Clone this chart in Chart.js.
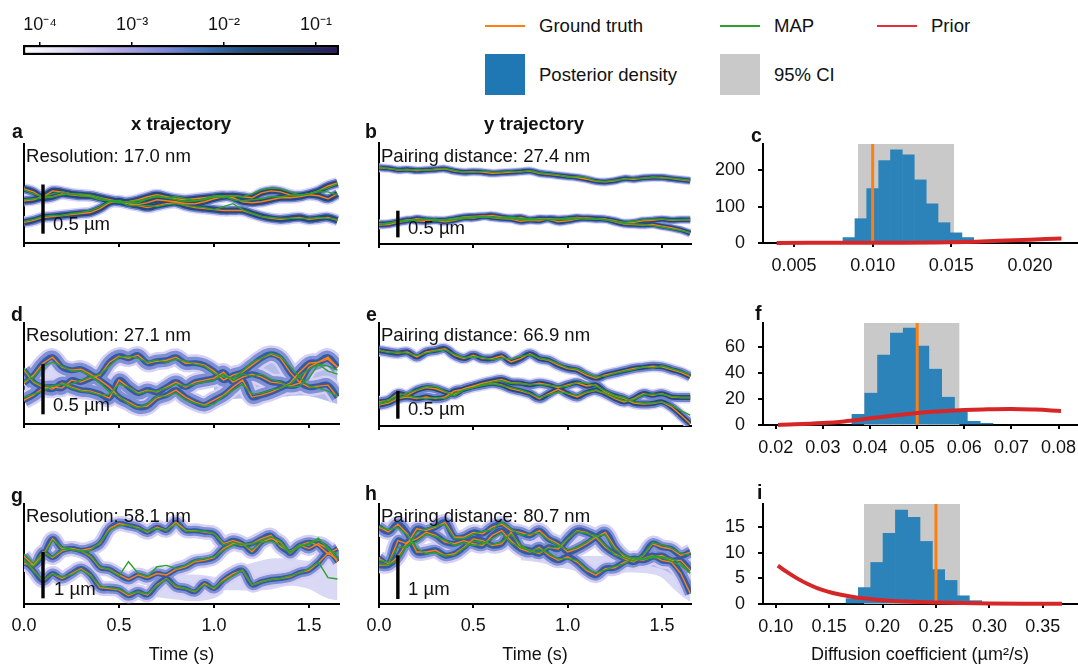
<!DOCTYPE html>
<html lang="en">
<head>
<meta charset="UTF-8">
<title>Trajectories and diffusion posterior</title>
<script src="https://cdn.jsdelivr.net/npm/chart.js"></script>
<style>
    html, body { margin: 0; padding: 0; background: #fff; }
    #fig { position: relative; width: 1078px; height: 666px; overflow: hidden; font-family: "Liberation Sans", Arial, sans-serif; color: #111; }
    #fig canvas { position: absolute; }
    .txt { position: absolute; font-size: 18.55px; line-height: 22px; white-space: nowrap; transform: translateY(-50%); }
    .bold { font-weight: bold; }
    .letter { font-size: 19.5px; }
    .swatch { position: absolute; }
</style>
</head>
<body>
<div id="fig"></div>
<script>
// time grid of all trajectories (s)
const times = [0,.05,.1,.15,.2,.25,.3,.35,.4,.45,.5,.55,.6,.65,.7,.75,.8,.85,.9,.95,1,1.05,1.1,1.15,1.2,1.25,1.3,1.35,1.4,1.45,1.5,1.55,1.6,1.65];

// panel a, x trajectory (um)
const aT1 = [.43,.44,.47,.53,.52,.50,.49,.48,.46,.44,.42,.40,.39,.41,.44,.43,.42,.40,.40,.42,.45,.47,.48,.47,.46,.51,.53,.52,.49,.48,.50,.53,.58,.61];
const aT2 = [.55,.52,.46,.47,.50,.49,.48,.48,.46,.43,.42,.42,.44,.47,.49,.47,.45,.44,.45,.46,.47,.48,.46,.42,.41,.42,.44,.46,.46,.47,.49,.48,.45,.50];
const aT3 = [.21,.23,.26,.27,.28,.29,.30,.31,.35,.41,.43,.40,.38,.36,.38,.40,.41,.38,.36,.35,.34,.33,.33,.33,.30,.27,.25,.24,.25,.26,.24,.25,.26,.23];
const aM1 = [.54,.50,.47,.50,.52,.50,.50,.49,.46,.43,.43,.41,.41,.45,.48,.46,.47,.45,.43,.44,.47,.46,.48,.47,.50,.54,.56,.55,.52,.49,.50,.53,.56,.60];
const aM2 = [.44,.45,.46,.47,.49,.50,.48,.47,.44,.43,.41,.42,.43,.45,.47,.46,.44,.42,.43,.45,.48,.48,.44,.43,.44,.45,.47,.47,.48,.48,.50,.52,.52,.49];
const aM3 = [.22,.24,.27,.28,.28,.30,.31,.33,.37,.42,.42,.38,.38,.38,.37,.39,.40,.38,.37,.36,.34,.37,.40,.34,.30,.27,.26,.25,.25,.25,.25,.26,.25,.24];

// panel b, y trajectory
const bT1 = [1.41,1.40,1.37,1.38,1.36,1.37,1.38,1.39,1.35,1.33,1.34,1.33,1.31,1.32,1.33,1.34,1.35,1.31,1.29,1.27,1.25,1.23,1.20,1.16,1.15,1.17,1.21,1.20,1.22,1.23,1.23,1.21,1.19,1.17];
const bT2 = [.35,.36,.40,.43,.47,.45,.44,.41,.44,.48,.48,.51,.53,.50,.48,.49,.45,.47,.46,.41,.43,.46,.48,.47,.46,.43,.39,.40,.43,.44,.46,.44,.45,.45];
const bT3 = [.37,.38,.41,.45,.43,.42,.44,.44,.47,.50,.51,.52,.49,.47,.46,.42,.44,.43,.47,.46,.47,.49,.47,.46,.46,.41,.37,.36,.35,.36,.33,.30,.26,.20];
const bM1 = [1.43,1.39,1.38,1.37,1.38,1.36,1.39,1.40,1.36,1.33,1.33,1.35,1.33,1.33,1.35,1.33,1.36,1.32,1.30,1.28,1.24,1.25,1.23,1.17,1.16,1.18,1.20,1.22,1.21,1.24,1.22,1.22,1.20,1.18];
const bM2 = [.36,.38,.42,.44,.45,.46,.46,.43,.45,.47,.49,.50,.50,.49,.50,.48,.47,.46,.45,.45,.45,.47,.47,.46,.45,.42,.40,.42,.45,.46,.46,.45,.45,.46];
const bM3 = [.36,.39,.42,.43,.44,.46,.43,.45,.48,.49,.50,.50,.49,.48,.47,.45,.45,.45,.46,.46,.48,.48,.46,.47,.45,.42,.38,.37,.36,.34,.31,.28,.25,.21];

// panel d
const dT1 = [.41,.49,.61,.67,.57,.54,.55,.50,.44,.37,.27,.22,.17,.18,.26,.29,.34,.27,.22,.19,.24,.29,.37,.44,.27,.29,.32,.36,.41,.52,.61,.62,.65,.57];
const dT2 = [.24,.29,.36,.37,.36,.44,.42,.46,.49,.62,.68,.66,.69,.61,.63,.64,.67,.61,.61,.59,.53,.44,.49,.52,.59,.66,.70,.66,.52,.42,.37,.38,.39,.27];
const dT3 = [.54,.42,.37,.35,.41,.37,.34,.33,.30,.26,.44,.37,.31,.34,.32,.37,.42,.37,.42,.44,.46,.52,.42,.47,.50,.47,.42,.41,.38,.41,.57,.62,.67,.57];
const dM1 = [.43,.47,.58,.62,.58,.53,.53,.48,.41,.32,.28,.20,.16,.20,.28,.28,.31,.24,.21,.18,.20,.28,.34,.40,.30,.31,.34,.36,.40,.48,.55,.60,.58,.54];
const dM2 = [.27,.30,.33,.38,.40,.40,.44,.47,.50,.58,.67,.68,.66,.62,.64,.62,.65,.63,.60,.58,.51,.47,.46,.53,.62,.66,.71,.68,.58,.47,.38,.36,.33,.28];
const dM3 = [.56,.43,.38,.38,.40,.36,.33,.32,.29,.30,.40,.37,.30,.33,.33,.36,.40,.38,.40,.42,.44,.50,.44,.50,.48,.50,.45,.42,.37,.38,.46,.60,.53,.50];

// panel e
const eT1 = [1.38,1.35,1.33,1.35,1.26,1.35,1.38,1.41,1.29,1.23,1.29,1.23,1.23,1.28,1.17,1.23,1.32,1.23,1.20,1.11,1.05,1.02,.93,.87,.93,.97,1.01,1.05,1.07,1.09,1.08,1.03,.98,.90];
const eT2 = [.44,.47,.59,.56,.65,.70,.68,.62,.58,.68,.73,.78,.82,.85,.79,.78,.75,.78,.75,.70,.75,.79,.73,.75,.62,.55,.50,.42,.40,.41,.44,.35,.20,.04];
const eT3 = [.38,.42,.50,.53,.50,.53,.50,.53,.64,.67,.72,.75,.78,.75,.68,.64,.59,.50,.59,.67,.59,.53,.61,.65,.59,.50,.44,.50,.59,.56,.59,.53,.52,.52];
const eM1 = [1.39,1.34,1.35,1.33,1.29,1.33,1.37,1.39,1.31,1.25,1.26,1.25,1.21,1.24,1.22,1.27,1.30,1.24,1.21,1.14,1.06,1.04,.96,.90,.91,.96,1.00,1.03,1.08,1.06,1.10,1.05,1.00,.94];
const eM2 = [.42,.48,.55,.60,.66,.72,.72,.63,.55,.66,.70,.76,.80,.82,.78,.77,.76,.76,.74,.72,.72,.80,.78,.73,.64,.56,.52,.44,.42,.42,.44,.38,.28,.20];
const eM3 = [.40,.44,.52,.55,.52,.50,.52,.50,.60,.66,.70,.74,.77,.74,.70,.66,.60,.52,.57,.62,.60,.56,.62,.66,.60,.52,.46,.48,.57,.58,.58,.54,.52,.52];

// panel g
const gT1 = [.89,.85,1.07,1.44,1.22,1.22,1.17,1.05,.80,.76,.64,.54,.64,.58,.67,.64,.76,.82,.93,.96,1.02,1.22,1.33,1.29,1.33,1.44,1.51,1.26,1.15,1.29,1.36,1.29,1.11,1.22];
const gT2 = [.96,.74,.51,.67,.56,.67,.78,.64,.36,.34,.31,.18,.27,.20,.42,.56,.38,.34,.27,.45,.34,.53,.67,.74,.42,.49,.54,.56,.60,.69,.74,.91,1.12,.98];
const gT3 = [1.05,.85,1.15,1.02,1.17,1.22,1.18,1.22,1.33,1.66,1.77,1.73,1.68,1.58,1.69,1.62,1.80,1.62,1.61,1.58,1.55,1.33,1.40,1.33,1.15,1.36,1.44,1.36,1.11,1.29,1.22,1.33,1.22,.93];
const gM1 = [.94,.82,1.05,1.40,1.25,1.20,1.17,1.07,.82,.75,.62,.93,.68,.60,.82,.85,.78,.85,.96,1.0,1.04,1.18,1.30,1.32,1.32,1.40,1.48,1.38,1.14,1.25,1.34,1.45,1.20,1.10];
const gM2 = [.98,.72,.53,.66,.60,.64,.76,.62,.40,.36,.33,.22,.27,.22,.40,.55,.40,.34,.28,.42,.36,.50,.62,.76,.42,.48,.54,.56,.62,.68,.78,.92,.58,.55];
const gM3 = [1.10,.90,1.12,1.04,1.20,1.20,1.16,1.18,1.36,1.62,1.72,1.74,1.66,1.60,1.66,1.62,1.76,1.60,1.60,1.60,1.55,1.30,1.36,1.30,1.20,1.36,1.38,1.30,1.12,1.30,1.30,1.42,1.25,1.00];

// panel h
const hT1 = [1.76,1.65,1.83,1.61,1.19,1.19,1.23,1.11,1.15,1.30,1.49,1.45,1.34,1.38,1.64,1.30,1.23,1.15,1.30,1.26,1.49,1.68,1.64,1.53,1.30,1.15,1.04,.96,1.11,1.38,1.30,1.26,1.11,1.19];
const hT2 = [1.04,.92,1.45,1.38,1.72,1.68,1.76,1.87,1.53,1.53,1.64,1.61,1.76,1.83,1.68,1.64,1.57,1.68,1.49,1.38,1.19,1.26,1.38,1.53,1.64,1.30,1.08,1.00,1.04,1.11,1.00,.96,.70,.24];
const hT3 = [.89,.89,1.08,1.42,1.49,1.64,1.57,1.42,1.38,1.45,1.38,1.34,1.57,1.68,1.45,1.26,1.19,1.30,1.11,1.00,1.08,.96,.77,.66,.81,.83,.96,1.04,1.00,1.08,1.11,1.00,1.00,.77];
const hM1 = [1.78,1.70,1.75,1.58,1.28,1.15,1.18,1.10,1.12,1.28,1.44,1.42,1.36,1.42,1.60,1.36,1.20,1.18,1.28,1.30,1.50,1.66,1.62,1.56,1.34,1.12,1.06,.98,1.12,1.40,1.36,1.28,1.16,1.12];
const hM2 = [1.00,.95,1.30,1.30,1.64,1.72,1.78,1.82,1.50,1.50,1.60,1.66,1.70,1.88,1.72,1.58,1.60,1.62,1.46,1.34,1.24,1.30,1.42,1.56,1.58,1.26,1.12,1.04,1.02,1.06,1.06,.98,.88,.72];
const hM3 = [.92,.90,1.00,1.35,1.42,1.60,1.54,1.46,1.34,1.40,1.34,1.38,1.50,1.62,1.40,1.30,1.22,1.26,1.16,1.04,1.04,1.00,.80,.72,.78,.86,.92,1.06,1.03,1.10,1.08,1.04,.94,.70];

// wider posterior regions (t, upper, lower)
const dWideT1 = [0,.1,.2,.3,.4];
const dWideHi1 = [.55,.58,.52,.50,.45];
const dWideLo1 = [.24,.28,.32,.32,.30];
const dWideT2 = [1,1.1,1.2,1.3,1.4,1.5,1.65];
const dWideHi2 = [.50,.55,.62,.66,.62,.60,.60];
const dWideLo2 = [.24,.25,.26,.26,.28,.28,.20];
const gWideT1 = [.7,.8,.9,1,1.05];
const gWideHi1 = [.75,.65,.65,.60,.50];
const gWideLo1 = [.15,.10,.06,.12,.25];
const gWideT2 = [1.05,1.2,1.3,1.4,1.5,1.55,1.6,1.65];
const gWideHi2 = [.75,.90,1.00,1.00,.95,1.00,1.10,1.15];
const gWideLo2 = [.30,.30,.32,.40,.33,.22,.12,.08];
const hWideT1 = [.75,.85,.95,1.05,1.15,1.25,1.35,1.45,1.5,1.55,1.6,1.65];
const hWideHi1 = [1.20,1.20,1.15,1.10,1.10,1.10,1.10,1.10,1.10,1.10,1.05,1.00];
const hWideLo1 = [1.00,.95,.85,.75,.62,.70,.72,.68,.60,.40,.20,.05];
const hWideT2 = [1.3,1.4,1.5,1.55,1.6,1.65];
const hWideHi2 = [1.10,1.10,1.10,1.05,1.05,.95];
const hWideLo2 = [.90,.88,.80,.68,.50,.32];

const timeTicks = [0,.5,1,1.5];
const timeLabels = ['0.0','0.5','1.0','1.5'];

// histograms: bin centres, heights, CI, true value, prior curve
const cBins = [.00849,.00925,.01,.01076,.01151,.01227,.01303,.01378,.01454,.0153,.01605];
const cHeights = [15,67,150,227,257,243,174,108,56,28,15];
const cCI = [.00907,.01517];
const cTruth = .01;
const cPriorX = [.0039,.008,.012,.016,.018,.02,.022];
const cPriorY = [.3,.5,1,3,6,9,12.5];
const cTicks = [.005,.01,.015,.02];
const cLabels = ['0.005','0.010','0.015','0.020'];
const cYTicks = [0,100,200];

const fBins = [.03752,.04024,.04296,.04568,.0484,.05112,.05384,.05656,.05928,.062,.06472];
const fHeights = [8.2,24.4,53.6,70.5,74.4,60.5,42.8,21.3,10,2.8,1.3];
const fCI = [.0387,.059];
const fTruth = .05;
const fPriorX = [.0205,.03,.035,.04,.045,.05,.055,.06,.065,.07,.075,.0805];
const fPriorY = [0,1.5,3,5.1,7.2,9.2,10.5,11.5,12,12.3,11.8,10.8];
const fTicks = [.02,.03,.04,.05,.06,.07,.08];
const fLabels = ['0.02','0.03','0.04','0.05','0.06','0.07','0.08'];
const fYTicks = [0,20,40,60];

const iBins = [.1716,.1831,.1947,.2062,.2178,.2293,.2409,.2524,.264,.2755,.2871];
const iHeights = [1.05,3.2,8.1,13.8,18.3,16.9,12.2,6.7,4.6,1.6,.65];
const iCI = [.1826,.2725];
const iTruth = .25;
const iPriorX = [.102,.11,.12,.13,.14,.15,.16,.17,.18,.2,.22,.25,.3,.368];
const iPriorY = [7.5,6.3,5,3.9,3,2.35,1.85,1.45,1.15,.75,.5,.3,.12,.03];
const iTicks = [.1,.15,.2,.25,.3,.35];
const iLabels = ['0.10','0.15','0.20','0.25','0.30','0.35'];
const iYTicks = [0,5,10,15];

// colour bar
const cbarTicks = [1e-4,1e-3,1e-2,1e-1];
const cbarLabels = ['10\u207B\u2074','10\u207B\u00B3','10\u207B\u00B2','10\u207B\u00B9'];
const cbarRange = [6.5e-5,.178];
const cbarStops = [0,.14,.3,.45,.58,.7,.85,1];
const cbarColors = ['#ffffff','#e2dcf6','#b3a9e6','#7c88d8','#3f6fb4','#22507f','#1e3a62','#2a1a5c'];

const ORANGE = '#ff7f0e', GREEN = '#2ca02c', RED = '#d62728', BLUE = '#2b83b9', GREY = '#c9c9c9';
const tickFont = { family: '"Liberation Sans", Arial, sans-serif', size: 18 };

Chart.defaults.animation = false;
Chart.defaults.responsive = false;
Chart.defaults.plugins.legend.display = false;
Chart.defaults.plugins.tooltip.enabled = false;
Chart.defaults.elements.point.radius = 0;

const fig = document.getElementById('fig');

function addCanvas(rect, pad) {
    const c = document.createElement('canvas');
    c.width = rect.r - rect.l + pad.l + pad.r;
    c.height = rect.b - rect.t + pad.t + pad.b;
    c.style.left = (rect.l - pad.l) + 'px';
    c.style.top = (rect.t - pad.t) + 'px';
    fig.appendChild(c);
    return c;
}

function pts(xs, ys) {
    return xs.map((x, i) => ({ x: x, y: ys[i] }));
}

function xAxis(vals, labels, min, max, padB, title, tickPad) {
    return {
        type: 'linear', min: min, max: max, offset: false,
        afterBuildTicks: s => { s.ticks = vals.map(v => ({ value: v })); },
        afterFit: s => { s.height = padB; },
        ticks: { display: !!labels, callback: (v, i) => labels ? labels[i] : '', font: tickFont, color: '#111', padding: tickPad, maxRotation: 0, autoSkip: false },
        grid: { drawOnChartArea: false, offset: false, color: '#000', lineWidth: 2, tickLength: 4 },
        border: { color: '#000', width: 2 },
        title: { display: !!title, text: title, font: tickFont, color: '#111', padding: 0 }
    };
}

function layoutOf(pad) {
    return { autoPadding: false, padding: { top: pad.t, right: pad.r, left: 0, bottom: 0 } };
}

// trajectory panel: density bands under the true and MAP paths, scale bar on top
function trajectoryPanel(p) {
    const pad = { l: 20, r: 20, t: 3, b: p.labels ? 666 - p.rect.b : 8 };
    const datasets = [];
    p.wide.forEach(w => {
        datasets.push({ type: 'line', data: pts(w.t, w.hi), fill: '+1', backgroundColor: w.color, borderWidth: 0, order: 90, tension: .3, clip: 0 });
        datasets.push({ type: 'line', data: pts(w.t, w.lo), borderWidth: 0, order: 90, tension: .3, clip: 0 });
    });
    const bandColors = p.bands || ['#d9d4f6', '#6f84cf', '#27477f'];
    p.truth.forEach(series => {
        p.halo.forEach((w, k) => {
            datasets.push({ type: 'line', data: pts(times, series), borderColor: bandColors[k], borderWidth: w, tension: .4, borderJoinStyle: 'round', order: 80 - k, clip: 0 });
        });
    });
    p.truth.forEach(series => {
        datasets.push({ type: 'line', data: pts(times, series), borderColor: ORANGE, borderWidth: 1.4, order: 20, clip: 0 });
    });
    p.map.forEach(series => {
        datasets.push({ type: 'line', data: pts(times, series), borderColor: GREEN, borderWidth: 1.4, order: 10, clip: 0 });
    });
    datasets.push({ type: 'line', data: pts([.1, .1], p.bar), borderColor: '#000', borderWidth: 3.4, order: 1 });
    new Chart(addCanvas(p.rect, pad), {
        type: 'line',
        data: { datasets: datasets },
        options: {
            layout: layoutOf(pad),
            scales: {
                x: xAxis(timeTicks, p.labels ? timeLabels : null, 0, p.xmax, pad.b, p.labels ? 'Time (s)' : '', 7),
                y: {
                    min: 0, max: p.ymax,
                    afterFit: s => { s.width = pad.l; },
                    ticks: { display: false },
                    grid: { display: false },
                    border: { color: '#000', width: 2 }
                }
            }
        }
    });
}

// histogram panel: CI block, posterior bars, prior and true value
function histPanel(p) {
    const pad = { l: 58, r: 30, t: 30, b: p.title ? 666 - p.rect.b : 34 };
    new Chart(addCanvas(p.rect, pad), {
        type: 'bar',
        data: {
            datasets: [
                { type: 'line', data: pts(p.ci, [p.ymax, p.ymax]), fill: 'origin', backgroundColor: GREY, borderWidth: 0, order: 50 },
                { type: 'bar', data: pts(p.bins, p.heights), backgroundColor: BLUE, barPercentage: 1, categoryPercentage: 1, order: 40 },
                { type: 'line', data: pts([p.truth, p.truth], [0, p.ymax]), borderColor: ORANGE, borderWidth: 3, order: 20 },
                { type: 'line', data: pts(p.priorX, p.priorY), borderColor: RED, borderWidth: 4, tension: .4, borderCapStyle: 'butt', order: 10, clip: 6 }
            ]
        },
        options: {
            layout: layoutOf(pad),
            scales: {
                x: xAxis(p.ticks, p.labels, p.xmin, p.xmax, pad.b, p.title, 8),
                y: {
                    min: 0, max: p.ymax,
                    afterBuildTicks: s => { s.ticks = p.yTicks.map(v => ({ value: v })); },
                    afterFit: s => { s.width = pad.l; },
                    ticks: { font: tickFont, color: '#111', padding: 13 },
                    grid: { drawOnChartArea: false, color: '#000', lineWidth: 2, tickLength: 5 },
                    border: { color: '#000', width: 2 }
                }
            }
        }
    });
}

function colorBar() {
    const rect = { l: 23, r: 339, t: 45, b: 55 };
    const pad = { l: 23, r: 21, t: 40, b: 0 };
    new Chart(addCanvas(rect, pad), {
        type: 'bar',
        data: {
            labels: ['density'],
            datasets: [{
                data: [cbarRange],
                barPercentage: 1, categoryPercentage: 1,
                borderColor: '#000', borderWidth: 2.5, borderSkipped: false,
                backgroundColor: ctx => {
                    const area = ctx.chart.chartArea;
                    if (!area) return '#fff';
                    const g = ctx.chart.ctx.createLinearGradient(area.left, 0, area.right, 0);
                    cbarStops.forEach((s, i) => g.addColorStop(s, cbarColors[i]));
                    return g;
                }
            }]
        },
        options: {
            indexAxis: 'y',
            layout: { autoPadding: false, padding: { left: pad.l, right: pad.r, top: 0, bottom: 0 } },
            scales: {
                x: {
                    type: 'logarithmic', position: 'top', min: cbarRange[0], max: cbarRange[1],
                    afterBuildTicks: s => { s.ticks = cbarTicks.map(v => ({ value: v })); },
                    afterFit: s => { s.height = pad.t; },
                    ticks: { callback: (v, i) => cbarLabels[i], font: tickFont, color: '#111', padding: 6, maxRotation: 0, autoSkip: false },
                    grid: { drawOnChartArea: false, color: '#000', lineWidth: 1.5, tickLength: 3 },
                    border: { display: false }
                },
                y: { display: false }
            }
        }
    });
}

function addText(str, left, centerY, cls, centered) {
    const d = document.createElement('div');
    d.className = 'txt' + (cls ? ' ' + cls : '');
    d.textContent = str;
    d.style.left = left + 'px';
    d.style.top = centerY + 'px';
    if (centered) d.style.transform = 'translate(-50%,-50%)';
    fig.appendChild(d);
}

function addSwatch(left, top, w, h, color) {
    const d = document.createElement('div');
    d.className = 'swatch';
    d.style.cssText = `left:${left}px;top:${top}px;width:${w}px;height:${h}px;background:${color}`;
    fig.appendChild(d);
}

const lav = 'rgba(170,170,235,.45)', midBlue = 'rgba(110,125,210,.5)';
const softBands = ['#d6d0f5', '#7f90d6', '#355aa2'];

colorBar();

trajectoryPanel({ rect: { l: 24, r: 339, t: 144, b: 243 }, xmax: 1.658, ymax: 1.007, truth: [aT1, aT2, aT3], map: [aM1, aM2, aM3], halo: [12, 9, 6], bar: [.095, .595], wide: [] });
trajectoryPanel({ rect: { l: 379, r: 691, t: 143, b: 244 }, xmax: 1.654, ymax: 1.87, truth: [bT1, bT2, bT3], map: [bM1, bM2, bM3], halo: [9, 7, 4.5], bar: [.123, .617], wide: [] });
trajectoryPanel({ rect: { l: 24, r: 339, t: 323, b: 424 }, xmax: 1.658, ymax: 1.013, truth: [dT1, dT2, dT3], map: [dM1, dM2, dM3], halo: [18, 13, 6], bands: softBands, bar: [.097, .60],
    wide: [{ t: dWideT1, hi: dWideHi1, lo: dWideLo1, color: lav }, { t: dWideT2, hi: dWideHi2, lo: dWideLo2, color: midBlue }] });
trajectoryPanel({ rect: { l: 379, r: 691, t: 323, b: 426 }, xmax: 1.654, ymax: 1.88, truth: [eT1, eT2, eT3], map: [eM1, eM2, eM3], halo: [12, 9, 5], bar: [.133, .642], wide: [] });
trajectoryPanel({ rect: { l: 24, r: 339, t: 504, b: 604 }, xmax: 1.658, ymax: 2.2, labels: true, truth: [gT1, gT2, gT3], map: [gM1, gM2, gM3], halo: [15, 10, 5], bands: softBands, bar: [.124, 1.146],
    wide: [{ t: gWideT1, hi: gWideHi1, lo: gWideLo1, color: lav }, { t: gWideT2, hi: gWideHi2, lo: gWideLo2, color: lav }] });
trajectoryPanel({ rect: { l: 379, r: 691, t: 504, b: 604 }, xmax: 1.654, ymax: 2.29, labels: true, truth: [hT1, hT2, hT3], map: [hM1, hM2, hM3], halo: [16, 11, 6], bands: softBands, bar: [.114, 1.114],
    wide: [{ t: hWideT1, hi: hWideHi1, lo: hWideLo1, color: lav }, { t: hWideT2, hi: hWideHi2, lo: hWideLo2, color: midBlue }] });

histPanel({ rect: { l: 763, r: 1077, t: 144, b: 243 }, xmin: .00303, xmax: .02299, ymax: 273, bins: cBins, heights: cHeights, ci: cCI, truth: cTruth, priorX: cPriorX, priorY: cPriorY, ticks: cTicks, labels: cLabels, yTicks: cYTicks });
histPanel({ rect: { l: 763, r: 1077, t: 323, b: 425 }, xmin: .0173, xmax: .0839, ymax: 78.2, bins: fBins, heights: fHeights, ci: fCI, truth: fTruth, priorX: fPriorX, priorY: fPriorY, ticks: fTicks, labels: fLabels, yTicks: fYTicks });
histPanel({ rect: { l: 763, r: 1077, t: 504, b: 604 }, xmin: .0881, xmax: .382, ymax: 19.5, bins: iBins, heights: iHeights, ci: iCI, truth: iTruth, priorX: iPriorX, priorY: iPriorY, ticks: iTicks, labels: iLabels, yTicks: iYTicks, title: 'Diffusion coefficient (\u00B5m\u00B2/s)' });

// panel letters and headings
[['a', 12, 131], ['b', 365, 131], ['c', 751, 135], ['d', 11, 314], ['e', 366, 314], ['f', 755, 313], ['g', 11, 495], ['h', 365, 493], ['i', 757, 492]]
    .forEach(l => addText(l[0], l[1], l[2], 'bold letter'));
addText('x trajectory', 181, 124, 'bold', true);
addText('y trajectory', 534, 124, 'bold', true);

// notes inside the panels
[['Resolution: 17.0 nm', 26, 156], ['0.5 \u00B5m', 53, 224], ['Pairing distance: 27.4 nm', 381, 156], ['0.5 \u00B5m', 408, 228],
 ['Resolution: 27.1 nm', 26, 335], ['0.5 \u00B5m', 53, 405], ['Pairing distance: 66.9 nm', 381, 335], ['0.5 \u00B5m', 408, 409],
 ['Resolution: 58.1 nm', 26, 516], ['1 \u00B5m', 54, 589], ['Pairing distance: 80.7 nm', 381, 516], ['1 \u00B5m', 408, 589]]
    .forEach(n => addText(n[0], n[1], n[2]));

// legend
addSwatch(485, 25, 40, 2, ORANGE); addText('Ground truth', 539, 26);
addSwatch(720, 25, 40, 2, GREEN); addText('MAP', 774, 26);
addSwatch(877, 25, 40, 2, '#e0313a'); addText('Prior', 931, 26);
addSwatch(485, 54, 40, 41, '#1f77b4'); addText('Posterior density', 539, 75);
addSwatch(720, 54, 40, 41, GREY); addText('95% CI', 774, 75);
</script>
</body>
</html>
